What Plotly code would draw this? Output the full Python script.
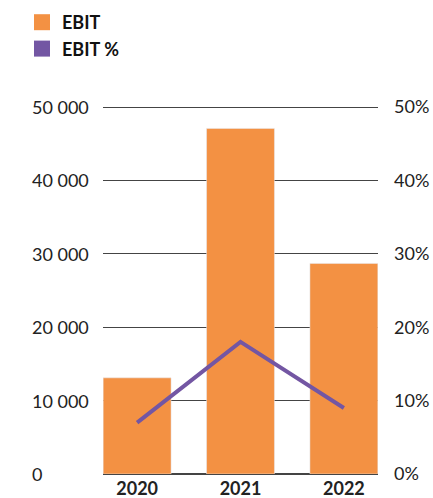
import plotly.graph_objects as go

years = ["2020", "2021", "2022"]
ebit = [13100, 47100, 28700]
ebit_pct = [0.07, 0.18, 0.09]
left_ticks = [0, 10000, 20000, 30000, 40000, 50000]
left_tick_labels = ["0", "10 000", "20 000", "30 000", "40 000", "50 000"]

ORANGE = "#F39143"
PURPLE = "#7356A3"
FONT = "Lato, 'Open Sans', sans-serif"

fig = go.Figure()
fig.add_trace(go.Bar(x=years, y=ebit, name="EBIT", marker_color=ORANGE,
                     width=0.657, showlegend=False))
fig.add_trace(go.Scatter(x=years, y=ebit_pct, name="EBIT %", mode="lines",
                         line=dict(color=PURPLE, width=4), yaxis="y2",
                         showlegend=False))
# legend proxies (square swatches)
fig.add_trace(go.Scatter(x=[None], y=[None], name="EBIT", mode="markers",
                         marker=dict(symbol="square", size=18, color=ORANGE)))
fig.add_trace(go.Scatter(x=[None], y=[None], name="EBIT %", mode="markers",
                         marker=dict(symbol="square", size=18, color=PURPLE)))

W, H = 433, 498
ml, mr, mt, mb = 103, 55, 106, 24
pw = W - ml - mr
ph = H - mt - mb

for v, t in zip(left_ticks, left_tick_labels):
    fig.add_annotation(x=-(ml - 30) / pw, xref="paper", y=v, yref="y",
                       text=t, showarrow=False, xanchor="left", yanchor="middle",
                       font=dict(size=18, color="#222222", family=FONT))

fig.update_layout(
    width=W, height=H,
    margin=dict(l=ml, r=mr, t=mt, b=mb, autoexpand=False),
    plot_bgcolor="white", paper_bgcolor="white",
    font=dict(family=FONT, size=18, color="#222222"),
    xaxis=dict(type="category", range=[-0.33, 2.33], showgrid=False,
               tickfont=dict(size=18, family="Lato", weight="bold", color="#222222"),
               ticks="", showline=False, ticklabelstandoff=2, automargin=False),
    yaxis=dict(range=[0, 50150], tickvals=left_ticks, showticklabels=False,
               showgrid=True, gridcolor="#444444", gridwidth=1,
               zeroline=True, zerolinecolor="#444444", zerolinewidth=2,
               ticks="", automargin=False),
    yaxis2=dict(range=[0, 0.5015], overlaying="y", side="right",
                tickvals=[0, 0.1, 0.2, 0.3, 0.4, 0.5],
                tickformat=".0%", showgrid=False, zeroline=False,
                ticklabelstandoff=15, tickfont=dict(size=18, color="#222222"),
                automargin=False),
    legend=dict(x=-(ml - 22) / pw, xanchor="left", y=1 + (mt - 4) / ph,
                yanchor="top", font=dict(size=18, weight="bold", color="#111111"),
                itemsizing="trace", bgcolor="rgba(0,0,0,0)", tracegroupgap=0),
)

fig.write_html("out.html")
